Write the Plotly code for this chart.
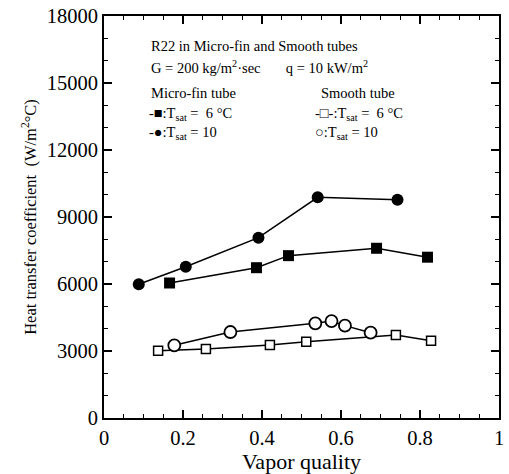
import plotly.graph_objects as go

# Micro-fin tube
mf6_x = [0.166, 0.386, 0.467, 0.690, 0.819]
mf6_y = [6045, 6730, 7270, 7600, 7200]
mf10_x = [0.088, 0.207, 0.391, 0.541, 0.743]
mf10_y = [5990, 6775, 8075, 9880, 9770]
# Smooth tube
st6_x = [0.137, 0.258, 0.420, 0.512, 0.739, 0.828]
st6_y = [3015, 3090, 3270, 3415, 3715, 3460]
st10_x = [0.178, 0.320, 0.535, 0.576, 0.610, 0.675]
st10_y = [3255, 3850, 4240, 4340, 4135, 3820]

FONT = "Liberation Serif"
fig = go.Figure()
line = dict(color="black", width=1.5)
fig.add_trace(go.Scatter(x=mf6_x, y=mf6_y, mode="lines+markers", line=line,
                         marker=dict(symbol="square", size=11, color="black")))
fig.add_trace(go.Scatter(x=mf10_x, y=mf10_y, mode="lines+markers", line=line,
                         marker=dict(symbol="circle", size=12, color="black")))
fig.add_trace(go.Scatter(x=st6_x, y=st6_y, mode="lines+markers", line=line,
                         marker=dict(symbol="square", size=9, color="white",
                                     line=dict(color="black", width=1.5))))
fig.add_trace(go.Scatter(x=st10_x, y=st10_y, mode="lines+markers", line=line,
                         marker=dict(symbol="circle", size=12, color="white",
                                     line=dict(color="black", width=1.8))))

axcommon = dict(showgrid=False, zeroline=False, showline=True, linecolor="black",
                linewidth=2, mirror="allticks", ticks="inside", ticklen=8,
                tickwidth=1.5, tickcolor="black", ticklabeloverflow="allow",
                tickfont=dict(family=FONT, size=20.5, color="black"))
fig.update_xaxes(range=[0, 1], tick0=0, dtick=0.2, tickformat="~g",
                 minor=dict(dtick=0.05, ticks="inside", ticklen=4, tickcolor="black", tickwidth=1),
                 title=dict(text="Vapor quality", font=dict(family=FONT, size=22, color="black"),
                            standoff=1),
                 **axcommon)
fig.update_yaxes(range=[0, 18000], tick0=0, dtick=3000, tickformat="d",
                 minor=dict(dtick=1000, ticks="inside", ticklen=4, tickcolor="black", tickwidth=1),
                 title=dict(text="Heat transfer coefficient  (W/m<sup>2</sup>°C)",
                            font=dict(family=FONT, size=16.5, color="black"), standoff=6),
                 **axcommon)

ann_font = dict(family=FONT, size=14.5, color="black")
texts = [
    (0.115, 0.925, "R22 in Micro-fin and Smooth tubes"),
    (0.115, 0.873, "G = 200 kg/m<sup>2</sup>·sec       q = 10 kW/m<sup>2</sup>"),
    (0.115, 0.808, "Micro-fin tube"),
    (0.545, 0.808, "Smooth tube"),
    (0.110, 0.755, "-■:T<sub>sat</sub> =  6 °C"),
    (0.110, 0.708, "-●:T<sub>sat</sub> = 10"),
    (0.530, 0.755, "-□-:T<sub>sat</sub> =  6 °C"),
    (0.530, 0.708, "○:T<sub>sat</sub> = 10"),
]
for x, y, t in texts:
    fig.add_annotation(x=x, y=y, xref="paper", yref="paper", text=t, showarrow=False,
                       xanchor="left", yanchor="middle", align="left", font=ann_font)

fig.update_layout(width=509, height=474, margin=dict(l=104, r=5, t=11, b=56),
                  plot_bgcolor="white", paper_bgcolor="white", showlegend=False)
fig.write_html("out.html")
